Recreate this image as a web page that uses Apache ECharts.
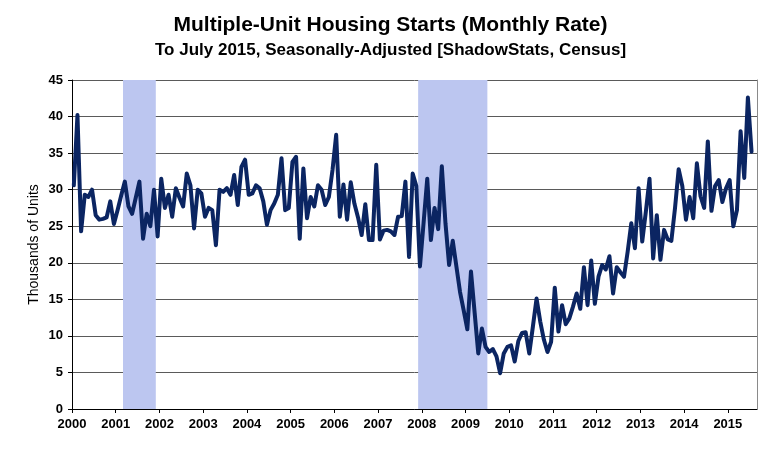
<!DOCTYPE html>
<html><head><meta charset="utf-8">
<script src="https://cdn.jsdelivr.net/npm/echarts@6/dist/echarts.min.js"></script>
<style>html,body{margin:0;padding:0;background:#fff}#c{width:781px;height:452px}</style>
</head><body><div id="c"></div>
<script>
// Multiple-unit housing starts, monthly rate, thousands of units (Jan 2000 - Jul 2015)
const firstYear = 2000;
const v2000 = [30.6, 40.2, 24.3, 29.3, 29.0, 30.0, 26.5, 25.9, 26.0, 26.2, 28.4, 25.3];
const v2001 = [27.2, 29.2, 31.1, 27.7, 26.7, 28.9, 31.1, 23.3, 26.7, 25.0, 30.0, 23.6];
const v2002 = [31.5, 27.5, 29.3, 26.3, 30.2, 28.9, 27.7, 32.2, 30.6, 24.7, 30.0, 29.5];
const v2003 = [26.3, 27.5, 27.2, 22.4, 30.0, 29.7, 30.2, 29.3, 32.0, 27.9, 33.1, 34.1];
const v2004 = [29.3, 29.5, 30.6, 30.2, 28.4, 25.2, 27.2, 28.1, 29.3, 34.3, 27.2, 27.5];
const v2005 = [33.8, 34.5, 23.3, 32.9, 26.1, 29.0, 27.7, 30.6, 30.0, 27.9, 29.0, 32.7];
const v2006 = [37.5, 26.3, 30.7, 25.9, 31.0, 28.1, 26.2, 23.8, 28.0, 23.1, 23.1, 33.4];
const v2007 = [23.2, 24.4, 24.5, 24.3, 23.8, 26.3, 26.4, 31.1, 20.8, 32.2, 30.5, 19.5];
const v2008 = [25.5, 31.5, 23.1, 27.5, 24.6, 33.2, 25.4, 19.7, 23.0, 19.5, 16.0, 13.5];
const v2009 = [10.9, 18.8, 13.2, 7.6, 11.0, 8.5, 7.8, 8.2, 7.2, 4.9, 7.6, 8.5];
const v2010 = [8.7, 6.5, 9.3, 10.4, 10.5, 7.6, 11.3, 15.1, 12.0, 9.5, 7.8, 9.2];
const v2011 = [16.6, 10.6, 14.2, 11.6, 12.4, 14.0, 15.8, 13.7, 19.4, 14.2, 20.3, 14.4];
const v2012 = [18.1, 19.7, 19.1, 20.9, 15.8, 19.4, 18.7, 18.1, 21.5, 25.4, 22.0, 30.2];
const v2013 = [22.9, 27.0, 31.5, 20.6, 26.5, 20.4, 24.5, 23.2, 23.0, 27.5, 32.8, 30.5];
const v2014 = [25.9, 29.0, 26.1, 33.6, 29.1, 27.5, 36.6, 27.1, 30.5, 31.3, 28.3, 30.2];
const v2015 = [31.3, 25.0, 27.2, 38.0, 31.6, 42.6, 35.2];

// Recession periods [start, end] as year + month/12
const recessions = [[2001 + 2/12, 2001 + 11/12], [2007 + 11/12, 2009 + 6/12]];

const titleText = 'Multiple-Unit Housing Starts (Monthly Rate)';
const subtitleText = 'To July 2015, Seasonally-Adjusted [ShadowStats, Census]';
const yName = 'Thousands of Units';

const monthly = [].concat(v2000, v2001, v2002, v2003, v2004, v2005, v2006, v2007,
  v2008, v2009, v2010, v2011, v2012, v2013, v2014, v2015);
const points = monthly.map((v, i) => [firstYear + (i + 0.5) / 12, v]);

const FONT = '"Liberation Sans", Arial, sans-serif';
const chart = echarts.init(document.getElementById('c'), null, {renderer: 'canvas'});
chart.setOption({
  animation: false,
  backgroundColor: '#fff',
  title: [
    {text: titleText, left: 'center', top: 10,
     textStyle: {fontFamily: FONT, fontSize: 21, fontWeight: 'bold', color: '#000'}},
    {text: subtitleText, left: 'center', top: 37,
     textStyle: {fontFamily: FONT, fontSize: 17, fontWeight: 'bold', color: '#000'}}
  ],
  grid: {left: 72, right: 24, top: 80, bottom: 43},
  xAxis: {
    type: 'value', min: 2000, max: 2015 + 8/12, interval: 1,
    axisLine: {show: true, lineStyle: {color: '#000', width: 1}},
    axisTick: {show: true, length: 4, lineStyle: {color: '#000'}},
    axisLabel: {fontFamily: FONT, fontSize: 13, fontWeight: 'bold', color: '#000', margin: 9,
      showMaxLabel: false, formatter: v => String(Math.round(v))},
    splitLine: {show: false}
  },
  yAxis: [{
    type: 'value', min: 0, max: 45, interval: 5,
    name: yName, nameLocation: 'middle', nameGap: 31, nameRotate: 90, nameMoveOverlap: false,
    nameTextStyle: {fontFamily: FONT, fontSize: 14, color: '#000'},
    axisLine: {show: true, lineStyle: {color: '#000', width: 1}},
    axisTick: {show: true, length: 4, lineStyle: {color: '#000'}},
    axisLabel: {fontFamily: FONT, fontSize: 13, fontWeight: 'bold', color: '#000', margin: 9},
    splitLine: {show: true, lineStyle: {color: '#5a5a5a', width: 1}}
  }, {
    type: 'value', min: 0, max: 45, interval: 5, position: 'right',
    axisLine: {show: true, lineStyle: {color: '#8a8a8a', width: 1}},
    axisTick: {show: false}, axisLabel: {show: false}, splitLine: {show: false}
  }],
  series: [{
    type: 'line', data: points, showSymbol: false, symbol: 'none',
    lineStyle: {color: '#0b2562', width: 4, join: 'round', cap: 'round'},
    clip: true,
    markArea: {
      silent: true,
      itemStyle: {color: '#bcc6f0'},
      data: recessions.map(r => [{xAxis: r[0]}, {xAxis: r[1]}])
    },
    z: 3
  }]
});
</script></body></html>
